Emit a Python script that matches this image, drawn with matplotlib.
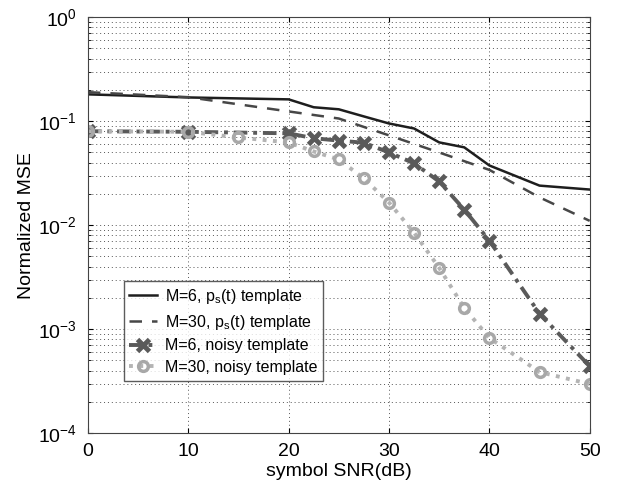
import numpy as np
import matplotlib
matplotlib.use("Agg")
import matplotlib.pyplot as plt

# SNR points (dB)
snrLine = [0, 10, 20, 22.5, 25, 27.5, 30, 32.5, 35, 37.5, 40, 45, 50]
snrDash = [0, 10, 20, 25, 30, 35, 40, 45, 50]
snrCross = [0, 10, 20, 22.5, 25, 27.5, 30, 32.5, 35, 37.5, 40, 45, 50]
snrCircle = [0, 10, 15, 20, 22.5, 25, 27.5, 30, 32.5, 35, 37.5, 40, 45, 50]

mseM6Ps = [0.181, 0.169, 0.162, 0.136, 0.130, 0.111, 0.095, 0.085, 0.0625, 0.056, 0.0375, 0.024, 0.022]
mseM30Ps = [0.19, 0.17, 0.124, 0.106, 0.073, 0.050, 0.034, 0.0185, 0.011]
mseM6Noisy = [0.080, 0.079, 0.0764, 0.0685, 0.065, 0.062, 0.050, 0.0393, 0.0263, 0.0141, 0.0071, 0.00141, 0.00044]
mseM30Noisy = [0.080, 0.079, 0.0697, 0.0624, 0.0511, 0.0428, 0.0281, 0.0165, 0.00847, 0.00389, 0.0016, 0.000824, 0.000387, 0.000297]

labels = [r"M=6, p$_\mathregular{s}$(t) template", r"M=30, p$_\mathregular{s}$(t) template",
          "M=6, noisy template", "M=30, noisy template"]

plt.rcParams['font.family'] = ['Liberation Sans', 'DejaVu Sans']

fig = plt.figure(figsize=(6.28, 4.9), dpi=100)
ax = fig.add_axes([0.140, 0.116, 0.799, 0.849])

ax.semilogy(snrLine, mseM6Ps, '-', color='#1e1e1e', lw=1.8, label=labels[0])
ax.semilogy(snrDash, mseM30Ps, '--', color='#474747', lw=1.8, dashes=(5, 4), label=labels[1])
ax.semilogy(snrCross, mseM6Noisy, '-.', color='#5a5a5a', lw=2.8, dashes=(3.5, 1.5, 1, 1.5),
            marker='x', ms=8, mew=3.5, label=labels[2])
ax.semilogy(snrCircle, mseM30Noisy, ':', color='#b4b4b4', lw=2.8, marker='o', ms=7, mew=2.5,
            mfc='none', mec='#a8a8a8', label=labels[3])

ax.set_xlim(0, 50)
ax.set_ylim(1e-4, 1)
ax.set_xticks([0, 10, 20, 30, 40, 50])
ax.grid(True, which='both', linestyle=(0, (1, 3)), color='#555555', lw=0.7)
ax.tick_params(which='both', direction='in', labelsize=14, top=True, right=True)
ax.tick_params(axis='x', pad=7)
ax.tick_params(axis='y', pad=8)
for s in ax.spines.values():
    s.set_color('#444444')

ax.set_xlabel("symbol SNR(dB)", fontsize=14, labelpad=2)
ax.set_ylabel("Normalized MSE", fontsize=14, labelpad=2)

leg = ax.legend(loc='lower left', bbox_to_anchor=(0.062, 0.115), fontsize=11.5, frameon=True,
                fancybox=False, handlelength=1.75, borderpad=0.35, labelspacing=0.42,
                handletextpad=0.5, borderaxespad=0.3)
leg.get_frame().set_edgecolor('#333333')
leg.get_frame().set_linewidth(1.0)

fig.savefig("out.png", dpi=100)
